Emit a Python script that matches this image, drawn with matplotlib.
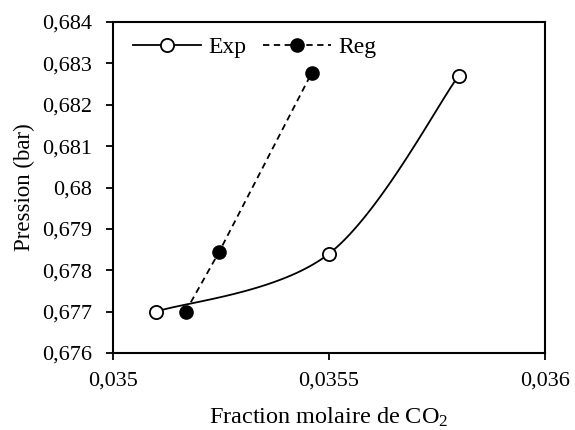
import numpy as np
import matplotlib
matplotlib.use("Agg")
import matplotlib.pyplot as plt
from matplotlib.ticker import FuncFormatter, MultipleLocator
from matplotlib.lines import Line2D

plt.rcParams['font.family'] = ['Liberation Serif', 'DejaVu Serif']
plt.rcParams['mathtext.fontset'] = 'custom'
plt.rcParams['mathtext.rm'] = 'Liberation Serif'
plt.rcParams['mathtext.it'] = 'Liberation Serif:italic'

# Experimental and regressed data
exp_x = [0.03510, 0.03550, 0.03580]
exp_y = [0.6770, 0.6784, 0.6827]
reg_x = [0.035168, 0.035246, 0.035460]
reg_y = [0.6770, 0.67845, 0.68277]

x_ticks = [0.035, 0.0355, 0.036]
xlim = (0.035, 0.036)
ylim = (0.676, 0.684)


def catmull_rom(px, py, n=60):
    """Smooth curve through points (Catmull-Rom, computed in normalized units)."""
    sx = xlim[1] - xlim[0]
    sy = ylim[1] - ylim[0]
    pts = np.column_stack([(np.array(px) - xlim[0]) / sx,
                           (np.array(py) - ylim[0]) / sy])
    ext = np.vstack([pts[0], pts, pts[-1]])
    out = []
    for i in range(1, len(ext) - 2):
        p0, p1, p2, p3 = ext[i - 1], ext[i], ext[i + 1], ext[i + 2]
        c1 = p1 + (p2 - p0) / 6.0
        c2 = p2 - (p3 - p1) / 6.0
        t = np.linspace(0, 1, n)[:, None]
        seg = ((1 - t) ** 3) * p1 + 3 * ((1 - t) ** 2) * t * c1 \
            + 3 * (1 - t) * t ** 2 * c2 + t ** 3 * p2
        out.append(seg if i == 1 else seg[1:])
    out = np.vstack(out)
    return out[:, 0] * sx + xlim[0], out[:, 1] * sy + ylim[0]


DASH = (0, (3.5, 2.5))

fig = plt.figure(figsize=(5.75, 4.3), dpi=100)
ax = fig.add_axes([0.1965, 0.179, 0.7513, 0.7698])

cx, cy = catmull_rom(exp_x, exp_y)
ax.plot(cx, cy, color='black', lw=1.3, zorder=2)
ax.plot(exp_x, exp_y, ls='none', marker='o', ms=9.5, mfc='white',
        mec='black', mew=1.3, zorder=4)
ax.plot(reg_x, reg_y, color='black', lw=1.3, ls=DASH,
        marker='o', ms=9.5, mfc='black', mec='black', zorder=3)

ax.set_xlim(*xlim)
ax.set_ylim(*ylim)
ax.set_xticks(x_ticks)
ax.yaxis.set_major_locator(MultipleLocator(0.001))


def comma_fmt(v, pos):
    return f"{round(v, 6):.6g}".replace('.', ',')


ax.xaxis.set_major_formatter(FuncFormatter(comma_fmt))
ax.yaxis.set_major_formatter(FuncFormatter(comma_fmt))
ax.tick_params(direction='out', length=5, width=1.3, labelsize=16,
               colors='black')
ax.tick_params(axis='y', pad=10)
ax.tick_params(axis='x', pad=8)
for s in ax.spines.values():
    s.set_linewidth(1.5)
    s.set_color('black')

ax.set_xlabel(r"Fraction molaire de CO$_2$", fontsize=17.5, labelpad=11)
ax.set_ylabel("Pression (bar)", fontsize=16.5, labelpad=5)

handles = [
    Line2D([], [], color='black', lw=1.3, marker='o', ms=9.5, mfc='white',
           mec='black', mew=1.3),
    Line2D([], [], color='black', lw=1.3, ls=DASH, marker='o',
           ms=9.5, mfc='black', mec='black'),
]
ax.legend(handles, ['Exp', 'Reg'], loc='center left', ncol=2, frameon=False,
          fontsize=17, handlelength=2.9, columnspacing=0.7, handletextpad=0.3,
          bbox_to_anchor=(0.046, 0.9245), borderaxespad=0, borderpad=0)

fig.savefig('out.png', dpi=100)
